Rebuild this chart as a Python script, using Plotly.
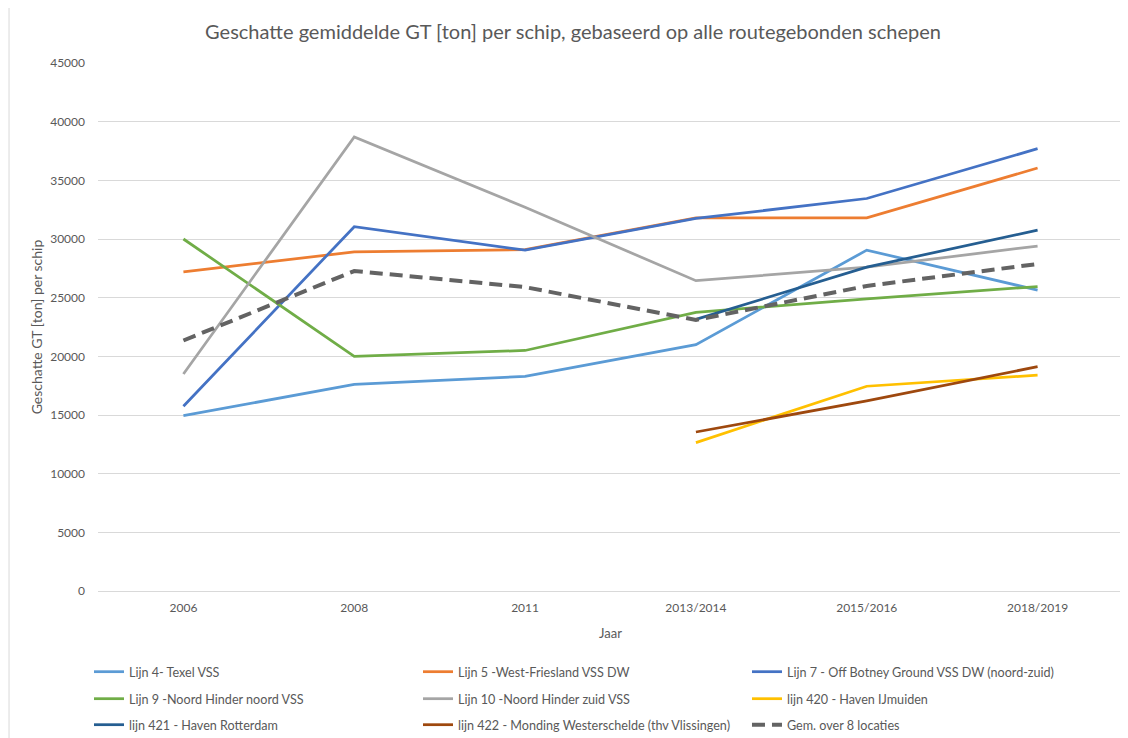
import plotly.graph_objects as go

years = ["2006", "2008", "2011", "2013/2014", "2015/2016", "2018/2019"]

lijn4 = [14950, 17600, 18300, 21000, 29050, 25650]
lijn5 = [27200, 28900, 29100, 31800, 31800, 36050]
lijn7 = [15750, 31050, 29050, 31750, 33450, 37700]
lijn9 = [30000, 20000, 20500, 23750, 24900, 25950]
lijn10 = [18500, 38700, 32700, 26450, 27600, 29400]
lijn420 = [None, None, None, 12650, 17450, 18400]
lijn421 = [None, None, None, 23150, 27600, 30750]
lijn422 = [None, None, None, 13550, 16200, 19120]
gem = [21350, 27270, 25900, 23100, 26000, 27870]

names = [
    "Lijn 4- Texel VSS",
    "Lijn 5 -West-Friesland VSS DW",
    "Lijn 7 - Off Botney Ground VSS DW (noord-zuid)",
    "Lijn 9 -Noord Hinder noord VSS",
    "Lijn 10 -Noord Hinder zuid VSS",
    "lijn 420 - Haven IJmuiden",
    "lijn 421 - Haven Rotterdam",
    "lijn 422 - Monding Westerschelde (thv Vlissingen)",
    "Gem. over 8 locaties",
]
series = [lijn4, lijn5, lijn7, lijn9, lijn10, lijn420, lijn421, lijn422, gem]
colors = ["#5B9BD5", "#ED7D31", "#4472C4", "#70AD47", "#A5A5A5",
          "#FFC000", "#255E91", "#9E480E", "#636363"]
legend_ids = ["legend"] * 3 + ["legend2"] * 3 + ["legend3"] * 3

FONT = "Lato, Roboto, sans-serif"
TXT = "#595959"

fig = go.Figure()
for i, (n, s, c) in enumerate(zip(names, series, colors)):
    is_avg = i == len(series) - 1
    fig.add_trace(go.Scatter(
        x=years, y=s, name=n, mode="lines",
        line=dict(color=c, width=4 if is_avg else 2.75,
                  dash="13px,7px" if is_avg else "solid"),
        connectgaps=False, legend=legend_ids[i],
    ))

def leg(ypix):
    return dict(orientation="h", x=-0.0088, xanchor="left",
                y=(591 - ypix) / 528, yanchor="middle",
                entrywidth=284, entrywidthmode="pixels",
                font=dict(size=12.6, color=TXT, family=FONT),
                bgcolor="rgba(0,0,0,0)")

# page body has an 8px margin; figure sized to fill the remaining window
fig.update_layout(
    width=1120, height=730,
    paper_bgcolor="white", plot_bgcolor="white",
    margin=dict(l=90, r=5, t=55, b=147, autoexpand=False),
    font=dict(family=FONT, color=TXT, size=12),
    title=dict(text="Geschatte gemiddelde GT [ton] per schip, gebaseerd op alle routegebonden schepen",
               x=(573 - 8) / 1120, xanchor="center", y=1 - 24 / 730, yanchor="middle",
               font=dict(size=20, color=TXT, family=FONT)),
    xaxis=dict(type="category", range=[-0.5, 5.5], showgrid=False,
               showline=True, linecolor="#D9D9D9", linewidth=1,
               ticks="", tickfont=dict(size=12, color=TXT), ticklabelstandoff=6,
               title=dict(text="Jaar", font=dict(size=13, color=TXT), standoff=14)),
    yaxis=dict(range=[0, 45000], dtick=5000, showgrid=True, gridcolor="#D9D9D9",
               gridwidth=1, zeroline=False, tickformat="d", ticks="",
               tickfont=dict(size=12, color=TXT), ticklabelstandoff=12,
               title=dict(text="Geschatte GT [ton] per schip",
                          font=dict(size=14, color=TXT), standoff=4)),
    legend=leg(672),
    legend2=leg(699),
    legend3=leg(725),
    shapes=[dict(type="line", xref="paper", yref="paper",
                 x0=-0.0868, x1=-0.0868, y0=-0.3, y1=1.15,
                 line=dict(color="#D9D9D9", width=1))],
)

fig.write_html("out.html")
